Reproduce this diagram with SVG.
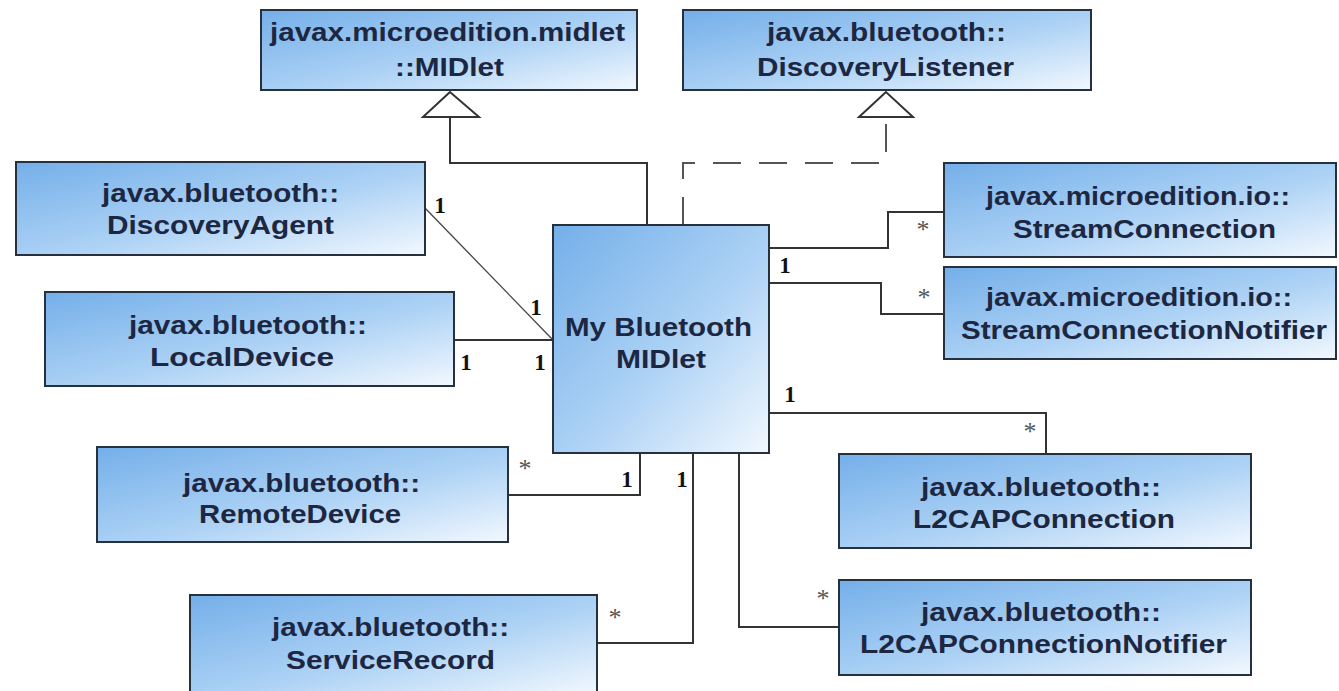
<svg xmlns="http://www.w3.org/2000/svg" width="1339" height="691" viewBox="0 0 1339 691">
<style>
.box{fill:url(#g);stroke:#27313d;stroke-width:2}
.t{font-family:"Liberation Sans",Arial,sans-serif;font-weight:bold;font-size:26px;fill:#1d2742;text-anchor:middle}
.ln{fill:none;stroke:#333;stroke-width:2}
.thin{fill:none;stroke:#444;stroke-width:1.3}
.dash{fill:none;stroke:#555;stroke-width:2;stroke-dasharray:28 18}
.tri{fill:#fff;stroke:#333;stroke-width:2}
.one{font-family:"Liberation Serif","Times New Roman",serif;font-weight:bold;font-size:23px;fill:#111;text-anchor:middle}
.st{font-family:"Liberation Serif","Times New Roman",serif;font-size:26px;fill:#555;text-anchor:middle}
</style>
<defs>
<linearGradient id="g" x1="0" y1="0" x2="1" y2="1">
<stop offset="0" stop-color="#74afe9"/>
<stop offset="0.55" stop-color="#add2f5"/>
<stop offset="1" stop-color="#f2f8fe"/>
</linearGradient>
</defs>
<rect width="1339" height="691" fill="#fff"/>

<g id="connectors">
<path class="ln" d="M647,225 V163 H450 V117"/>
<polygon class="tri" points="450,92 423,117 479,117"/>
<path class="dash" d="M683,225 V163 H886 V117"/>
<polygon class="tri" points="886,92 859,117 913,117"/>
<path class="thin" d="M425,208 L553,340"/>
<path class="ln" d="M454,340 H553"/>
<path class="ln" d="M769,248 H888 V212 H944"/>
<path class="ln" d="M769,283 H881 V314 H944"/>
<path class="ln" d="M769,413 H1046 V454"/>
<path class="ln" d="M739,453 V627 H839"/>
<path class="ln" d="M693,453 V643 H597"/>
<path class="ln" d="M640,453 V495 H508"/>
<text class="one" x="440" y="213">1</text>
<text class="one" x="536" y="315">1</text>
<text class="one" x="466" y="370">1</text>
<text class="one" x="540" y="370">1</text>
<text class="st" x="923" y="238">*</text>
<text class="one" x="785" y="273">1</text>
<text class="st" x="924" y="306">*</text>
<text class="one" x="790" y="402">1</text>
<text class="st" x="1030" y="440">*</text>
<text class="st" x="525" y="477">*</text>
<text class="one" x="627" y="487">1</text>
<text class="one" x="682" y="487">1</text>
<text class="st" x="615" y="626">*</text>
<text class="st" x="823" y="607">*</text>
</g>

<g id="midlet">
<rect class="box" x="261" y="10" width="376" height="80"/>
<text class="t" x="447.5" y="41" textLength="355" lengthAdjust="spacingAndGlyphs">javax.microedition.midlet</text>
<text class="t" x="449.5" y="76" textLength="109" lengthAdjust="spacingAndGlyphs">::MIDlet</text>
</g>

<g id="discoveryListener">
<rect class="box" x="683" y="10" width="408" height="80"/>
<text class="t" x="886.5" y="41" textLength="239" lengthAdjust="spacingAndGlyphs">javax.bluetooth::</text>
<text class="t" x="885.5" y="76" textLength="257" lengthAdjust="spacingAndGlyphs">DiscoveryListener</text>
</g>

<g id="discoveryAgent">
<rect class="box" x="16" y="162" width="409" height="93"/>
<text class="t" x="220.5" y="202" textLength="237" lengthAdjust="spacingAndGlyphs">javax.bluetooth::</text>
<text class="t" x="220.5" y="234" textLength="227" lengthAdjust="spacingAndGlyphs">DiscoveryAgent</text>
</g>

<g id="localDevice">
<rect class="box" x="45" y="292" width="409" height="94"/>
<text class="t" x="248" y="334" textLength="238" lengthAdjust="spacingAndGlyphs">javax.bluetooth::</text>
<text class="t" x="242" y="366" textLength="184" lengthAdjust="spacingAndGlyphs">LocalDevice</text>
</g>

<g id="remoteDevice">
<rect class="box" x="97" y="447" width="411" height="95"/>
<text class="t" x="301.5" y="492" textLength="237" lengthAdjust="spacingAndGlyphs">javax.bluetooth::</text>
<text class="t" x="300" y="523" textLength="202" lengthAdjust="spacingAndGlyphs">RemoteDevice</text>
</g>

<g id="serviceRecord">
<rect class="box" x="190" y="595" width="407" height="100"/>
<text class="t" x="390.5" y="636" textLength="237" lengthAdjust="spacingAndGlyphs">javax.bluetooth::</text>
<text class="t" x="390.5" y="669" textLength="209" lengthAdjust="spacingAndGlyphs">ServiceRecord</text>
</g>

<g id="myBluetoothMidlet">
<rect class="box" x="553" y="225" width="216" height="228"/>
<text class="t" x="658.5" y="336" textLength="187" lengthAdjust="spacingAndGlyphs">My Bluetooth</text>
<text class="t" x="661" y="368" textLength="90" lengthAdjust="spacingAndGlyphs">MIDlet</text>
</g>

<g id="streamConnection">
<rect class="box" x="944" y="163" width="392" height="94"/>
<text class="t" x="1138" y="205" textLength="304" lengthAdjust="spacingAndGlyphs">javax.microedition.io::</text>
<text class="t" x="1144.5" y="238" textLength="263" lengthAdjust="spacingAndGlyphs">StreamConnection</text>
</g>

<g id="streamConnectionNotifier">
<rect class="box" x="944" y="267" width="392" height="92"/>
<text class="t" x="1139" y="306" textLength="306" lengthAdjust="spacingAndGlyphs">javax.microedition.io::</text>
<text class="t" x="1144" y="339" textLength="366" lengthAdjust="spacingAndGlyphs">StreamConnectionNotifier</text>
</g>

<g id="l2capConnection">
<rect class="box" x="839" y="454" width="412" height="94"/>
<text class="t" x="1041" y="496" textLength="240" lengthAdjust="spacingAndGlyphs">javax.bluetooth::</text>
<text class="t" x="1044" y="528" textLength="262" lengthAdjust="spacingAndGlyphs">L2CAPConnection</text>
</g>

<g id="l2capConnectionNotifier">
<rect class="box" x="839" y="580" width="412" height="95"/>
<text class="t" x="1041" y="621" textLength="240" lengthAdjust="spacingAndGlyphs">javax.bluetooth::</text>
<text class="t" x="1043.5" y="653" textLength="367" lengthAdjust="spacingAndGlyphs">L2CAPConnectionNotifier</text>
</g>
</svg>
